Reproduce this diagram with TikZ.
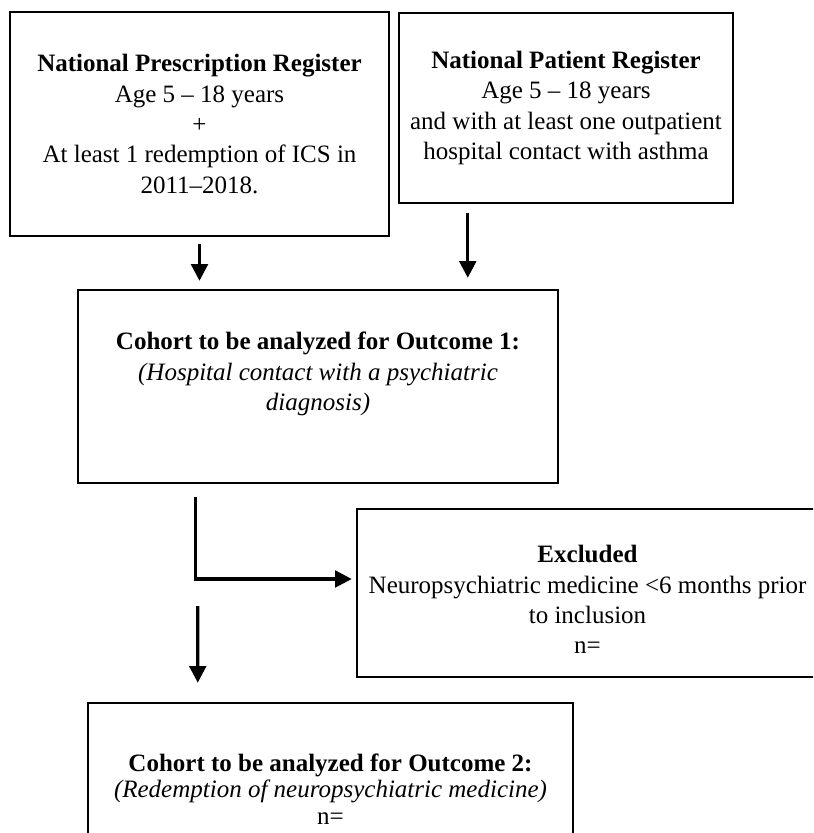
\documentclass[tikz,border=0pt]{standalone}
\usepackage{fontspec}
\setmainfont{Liberation Serif}
\usetikzlibrary{arrows.meta,calc}

\begin{document}
\begin{tikzpicture}[
      x=0.48pt, y=-0.48pt,
      box/.style={draw=black, line width=1.2pt, align=center, inner sep=0pt,
        font=\fontsize{12}{14.6}\selectfont},
      arrow/.style={-{Triangle[length=8pt,width=8pt]}, line width=1.5pt, draw=black}
    ]
    \useasboundingbox (0,0) rectangle (813,833);
    \clip (0,0) rectangle (813,833);

    \node[box, minimum width=181.9pt, minimum height=107.5pt] (prescr) at (199.5,124)
      {\textbf{National Prescription Register}\\Age 5 -- 18 years\\+\\
       At least 1 redemption of ICS in\\2011--2018.};
    \node[box, minimum width=160.3pt, minimum height=91.2pt] (patient) at (566,108)
      {\textbf{National Patient Register}\\Age 5 -- 18 years\\
       and with at least one outpatient\\hospital contact with asthma};

    \node[box, minimum width=230.4pt, minimum height=92.6pt] (cohort1) at (318,386.5)
      {\textbf{Cohort to be analyzed for Outcome 1:}\\
       \textit{(Hospital contact with a psychiatric}\\\textit{diagnosis)}\\\mbox{}};

    \node[box, minimum width=221.3pt, minimum height=80.6pt] (excluded) at (587.5,593)
      {\mbox{}\\\textbf{Excluded}\\Neuropsychiatric medicine <6 months prior\\
       to inclusion\\n=};

    \node[box, minimum width=232.8pt, minimum height=82.6pt,
      font=\fontsize{12}{12.6}\selectfont] (outcome2) at (330.5,789)
      {\textbf{Cohort to be analyzed for Outcome 2:}\\
       \textit{(Redemption of neuropsychiatric medicine)}\\n=};

    \draw[arrow] ($(prescr.south)+(0,7)$) -- ($(prescr.south |- cohort1.north)+(0,-8)$);
    \draw[arrow] ($(patient.south west)+(70,9)$) -- ($(patient.south west |- cohort1.north)+(70,-11)$);
    \draw[arrow] ($(cohort1.south west)+(119,13)$) |- ($(excluded.west)+(-4,-14)$);
    \draw[arrow] ($(cohort1.south west)+(121,122)$) -- ($(outcome2.north west)+(111,-19)$);
  \end{tikzpicture}
\end{document}
